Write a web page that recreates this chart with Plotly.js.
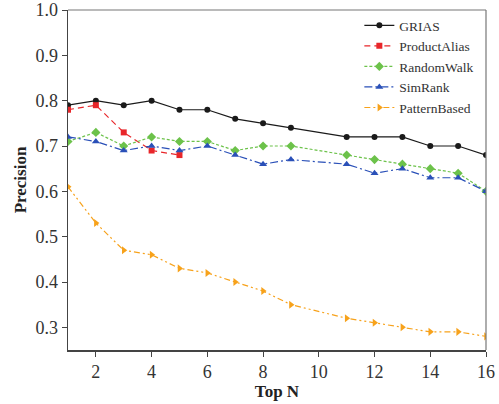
<!DOCTYPE html>
<html>
<head>
<meta charset="utf-8">
<script src="https://cdn.plot.ly/plotly-3.0.1.min.js"></script>
<style>html,body{margin:0;padding:0;background:#fff;}#chart{width:499px;height:404px;}</style>
</head>
<body>
<div id="chart"></div>
<script>
const topN = [1, 2, 3, 4, 5, 6, 7, 8, 9, 11, 12, 13, 14, 15, 16];
const topNShort = [1, 2, 3, 4, 5];
const grias = [0.79, 0.80, 0.79, 0.80, 0.78, 0.78, 0.76, 0.75, 0.74, 0.72, 0.72, 0.72, 0.70, 0.70, 0.68];
const productAlias = [0.78, 0.79, 0.73, 0.69, 0.68];
const randomWalk = [0.71, 0.73, 0.70, 0.72, 0.71, 0.71, 0.69, 0.70, 0.70, 0.68, 0.67, 0.66, 0.65, 0.64, 0.60];
const simRank = [0.72, 0.71, 0.69, 0.70, 0.69, 0.70, 0.68, 0.66, 0.67, 0.66, 0.64, 0.65, 0.63, 0.63, 0.60];
const patternBased = [0.61, 0.53, 0.47, 0.46, 0.43, 0.42, 0.40, 0.38, 0.35, 0.32, 0.31, 0.30, 0.29, 0.29, 0.28];
const xTicks = [2, 4, 6, 8, 10, 12, 14, 16];
const yTicks = [0.3, 0.4, 0.5, 0.6, 0.7, 0.8, 0.9, 1.0];

const serif = '"Liberation Serif", "Times New Roman", serif';

const traces = [
  {name: 'GRIAS', x: topN, y: grias, mode: 'lines+markers',
   line: {color: '#1a1a1a', width: 1.2, dash: 'solid'},
   marker: {symbol: 'circle', size: 6, color: '#1a1a1a'}},
  {name: 'ProductAlias', x: topNShort, y: productAlias, mode: 'lines+markers',
   line: {color: '#e8262a', width: 1.2, dash: '6px,4px'},
   marker: {symbol: 'square', size: 6, color: '#e8262a'}},
  {name: 'RandomWalk', x: topN, y: randomWalk, mode: 'lines+markers',
   line: {color: '#6cc24a', width: 1.2, dash: '3px,2px'},
   marker: {symbol: 'diamond', size: 7, color: '#6cc24a'}},
  {name: 'SimRank', x: topN, y: simRank, mode: 'lines+markers',
   line: {color: '#2a50b8', width: 1.2, dash: '8px,3px,2px,3px'},
   marker: {symbol: 'triangle-up', size: 7, color: '#2a50b8'}},
  {name: 'PatternBased', x: topN, y: patternBased, mode: 'lines+markers',
   line: {color: '#f7a21b', width: 1.2, dash: '6px,3px,2px,3px,2px,3px'},
   marker: {symbol: 'triangle-right', size: 7, color: '#f7a21b'}}
];

const layout = {
  width: 499, height: 404,
  margin: {l: 68, r: 13, t: 10, b: 54},
  paper_bgcolor: '#fff', plot_bgcolor: '#fff',
  font: {family: serif, color: '#333'},
  showlegend: true,
  legend: {x: 0.697, y: 1.0, xanchor: 'left', yanchor: 'top',
           font: {family: serif, size: 13.5, color: '#333'},
           bgcolor: 'rgba(0,0,0,0)', borderwidth: 0, tracegroupgap: 0},
  xaxis: {range: [1, 16], tickvals: xTicks, ticktext: xTicks.map(String),
          ticks: 'outside', ticklen: 5, tickcolor: '#444', tickwidth: 1,
          showline: true, linecolor: '#444', linewidth: 1.5,
          showgrid: false, zeroline: false,
          tickfont: {family: serif, size: 18, color: '#333'},
          title: {text: '<b>Top N</b>', font: {family: serif, size: 17, color: '#222'}, standoff: 4}},
  yaxis: {range: [0.25, 1.0], tickvals: yTicks, ticktext: yTicks.map(v => v.toFixed(1)),
          ticks: 'outside', ticklen: 5, tickcolor: '#444', tickwidth: 1,
          showline: true, linecolor: '#444', linewidth: 1.5,
          showgrid: false, zeroline: false,
          tickfont: {family: serif, size: 18, color: '#333'},
          title: {text: '<b>Precision</b>', font: {family: serif, size: 17, color: '#222'}, standoff: 4}},
  shapes: [
    {type: 'line', xref: 'paper', yref: 'paper', x0: 0, x1: 1, y0: 1, y1: 1, line: {color: '#777', width: 1.2}},
    {type: 'line', xref: 'paper', yref: 'paper', x0: 1, x1: 1, y0: 0, y1: 1, line: {color: '#777', width: 1.2}}
  ]
};

Plotly.newPlot('chart', traces, layout, {displayModeBar: false, staticPlot: true});
</script>
</body>
</html>
